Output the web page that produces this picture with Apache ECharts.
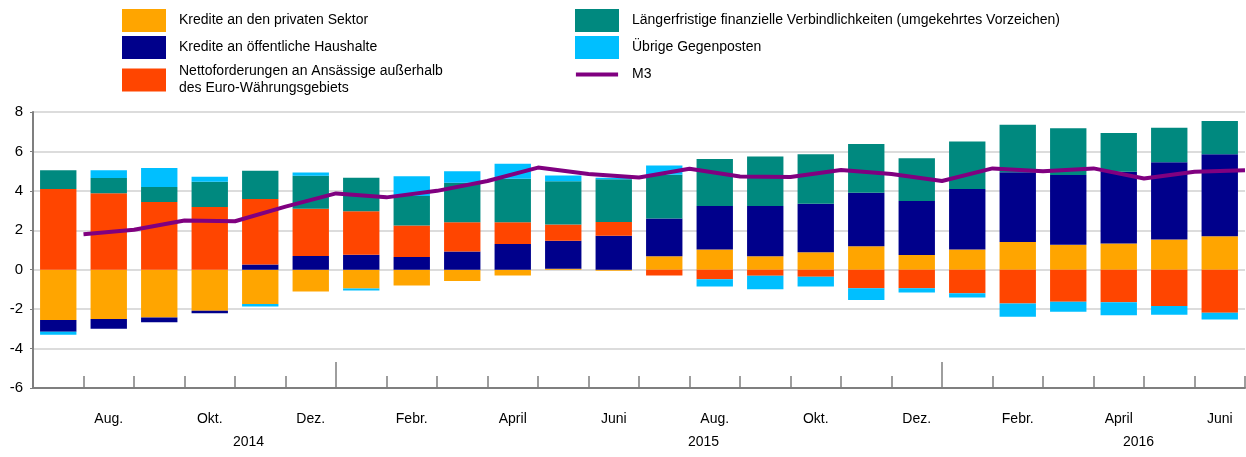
<!DOCTYPE html>
<html>
<head>
<meta charset="utf-8">
<title>Geldmenge M3 und Gegenposten</title>
<script src="https://cdn.jsdelivr.net/npm/echarts/dist/echarts.min.js"></script>
<style>
	html, body { margin: 0; padding: 0; background: #fff; }
	#chart { width: 1246px; height: 457px; }
</style>
</head>
<body>
<div id="chart"></div>
<script>
// Monate Juli 2014 - Juni 2016
var months = ['Juli', 'Aug.', 'Sept.', 'Okt.', 'Nov.', 'Dez.',
	'Jan.', 'Febr.', 'März', 'April', 'Mai', 'Juni', 'Juli', 'Aug.', 'Sept.', 'Okt.', 'Nov.', 'Dez.',
	'Jan.', 'Febr.', 'März', 'April', 'Mai', 'Juni'];
// M3 wird an den Monatsgrenzen gezeichnet (25 Punkte, erster leer)
var m3Slots = ['', '', '', '', '', '', '', '', '', '', '', '', '', '', '', '', '', '', '', '', '', '', '', '', ''];
var years = ['2014', '2015', '2016'];

var kreditePrivat = [-2.55, -2.5, -2.43, -2.08, -1.74, -1.1, -0.95, -0.8, -0.57, -0.29, 0.05, -0.05,
	0.68, 1.02, 0.68, 0.89, 1.19, 0.75, 1.02, 1.4, 1.26, 1.33, 1.53, 1.7];
var krediteOeffentlich = [-0.6, -0.5, -0.24, -0.13, 0.26, 0.7, 0.76, 0.64, 0.93, 1.31, 1.42, 1.72,
	1.92, 2.21, 2.55, 2.46, 2.72, 2.74, 3.07, 3.54, 3.54, 3.64, 3.92, 4.16];
var nettoforderungen = [4.1, 3.88, 3.44, 3.18, 3.33, 2.39, 2.2, 1.6, 1.48, 1.1, 0.82, 0.7,
	-0.29, -0.48, -0.31, -0.36, -0.94, -0.94, -1.19, -1.72, -1.62, -1.65, -1.84, -2.18];
var laengerfristig = [0.95, 0.77, 0.76, 1.28, 1.43, 1.67, 1.71, 1.5, 2.0, 2.2, 2.2, 2.17,
	2.22, 2.39, 2.51, 2.51, 2.47, 2.16, 2.41, 2.41, 2.38, 1.97, 1.75, 1.68];
var uebrige = [-0.15, 0.4, 0.96, 0.25, -0.13, 0.17, -0.1, 1.0, 0.59, 0.77, 0.29, 0.08,
	0.46, -0.37, -0.68, -0.49, -0.59, -0.22, -0.22, -0.66, -0.51, -0.66, -0.44, -0.34];
var m3 = [null, 1.8, 2.03, 2.5, 2.46, 3.2, 3.87, 3.67, 4.0, 4.5, 5.18, 4.85, 4.68,
	5.12, 4.73, 4.7, 5.06, 4.85, 4.5, 5.14, 5.0, 5.14, 4.63, 4.97, 5.05];
var yTicks = [-6, -4, -2, 0, 2, 4, 6, 8];

var nameNetto = 'Nettoforderungen an Ansässige außerhalb\ndes Euro-Währungsgebiets';
var nameLang = 'Längerfristige finanzielle Verbindlichkeiten (umgekehrtes Vorzeichen)';

(function() {
	'use strict';
	var chart = echarts.init(document.getElementById('chart'));
	var fontFamily = '"Liberation Sans", Arial, sans-serif';
	// dünner Strich als Legendensymbol für die Linie
	var lineIcon = 'path://M0,0L0,0M0,10L44,10L44,14L0,14ZM44,24L44,24';

	function barSeries(name, data, color) {
		return {
			name: name,
			type: 'bar',
			stack: 'gegenposten',
			barWidth: '72%',
			xAxisIndex: 0,
			itemStyle: { color: color },
			data: data
		};
	}

	var legendText = {
		fontSize: 14,
		color: '#000',
		fontFamily: fontFamily,
		lineHeight: 17,
		padding: [0, 0, 0, 8]
	};

	var option = {
		animation: false,
		legend: [{
			orient: 'vertical',
			left: 122,
			top: 9,
			padding: 0,
			itemWidth: 44,
			itemHeight: 23,
			itemGap: 4,
			selectedMode: false,
			textStyle: legendText,
			data: [
				{ name: 'Kredite an den privaten Sektor', icon: 'rect' },
				{ name: 'Kredite an öffentliche Haushalte', icon: 'rect' },
				{ name: nameNetto, icon: 'rect' }
			]
		}, {
			orient: 'vertical',
			left: 575,
			top: 9,
			padding: 0,
			itemWidth: 44,
			itemHeight: 23,
			itemGap: 4,
			selectedMode: false,
			textStyle: legendText,
			data: [
				{ name: nameLang, icon: 'rect' },
				{ name: 'Übrige Gegenposten', icon: 'rect' },
				{ name: 'M3', icon: lineIcon }
			]
		}],
		grid: {
			left: 33,
			right: 1,
			top: 112,
			bottom: 69
		},
		xAxis: [{
			type: 'category',
			data: months,
			boundaryGap: true,
			axisLine: { onZero: false, lineStyle: { color: '#7f7f7f', width: 2 } },
			axisTick: {
				show: true,
				inside: true,
				length: 12,
				interval: 0,
				lineStyle: { color: '#7f7f7f', width: 1.5 }
			},
			axisLabel: {
				interval: function(index) { return index % 2 === 1; },
				margin: 24,
				fontSize: 14,
				color: '#000',
				fontFamily: fontFamily
			},
			splitLine: { show: false }
		}, {
			type: 'category',
			data: m3Slots,
			boundaryGap: false,
			position: 'bottom',
			axisLine: { show: false, onZero: false },
			axisTick: {
				inside: true,
				length: 26,
				lineStyle: { color: '#7f7f7f', width: 1.5 },
				interval: function(index) { return index === 6 || index === 18; }
			},
			axisLabel: { show: false },
			splitLine: { show: false }
		}],
		yAxis: {
			type: 'value',
			min: yTicks[0],
			max: yTicks[yTicks.length - 1],
			interval: 2,
			axisLine: { show: true, lineStyle: { color: '#7f7f7f', width: 2 } },
			axisTick: { show: true, length: 3, lineStyle: { color: '#7f7f7f' } },
			axisLabel: {
				margin: 10,
				fontSize: 15,
				color: '#000',
				fontFamily: fontFamily
			},
			splitLine: { lineStyle: { color: '#dcdcdc', width: 2 } }
		},
		series: [
			barSeries('Kredite an den privaten Sektor', kreditePrivat, '#FFA500'),
			barSeries('Kredite an öffentliche Haushalte', krediteOeffentlich, '#00008B'),
			barSeries(nameNetto, nettoforderungen, '#FF4500'),
			barSeries(nameLang, laengerfristig, '#00897F'),
			barSeries('Übrige Gegenposten', uebrige, '#00BFFF'),
			{
				name: 'M3',
				type: 'line',
				xAxisIndex: 1,
				symbol: 'none',
				z: 5,
				lineStyle: { color: '#800080', width: 4 },
				itemStyle: { color: '#800080' },
				data: m3
			}
		]
	};
	chart.setOption(option);

	// Jahreszahlen unter den Monatsbeschriftungen
	var yearX = [249, 704, 1139];
	var graphics = [];
	for (var i = 0; i < years.length; i++) {
		graphics.push({
			type: 'text',
			left: yearX[i] - 16,
			top: 435,
			style: {
				text: years[i],
				fontSize: 14,
				fill: '#000',
				fontFamily: fontFamily
			}
		});
	}
	chart.setOption({ graphic: graphics });
	window.onresize = chart.resize;
}());
</script>
</body>
</html>
